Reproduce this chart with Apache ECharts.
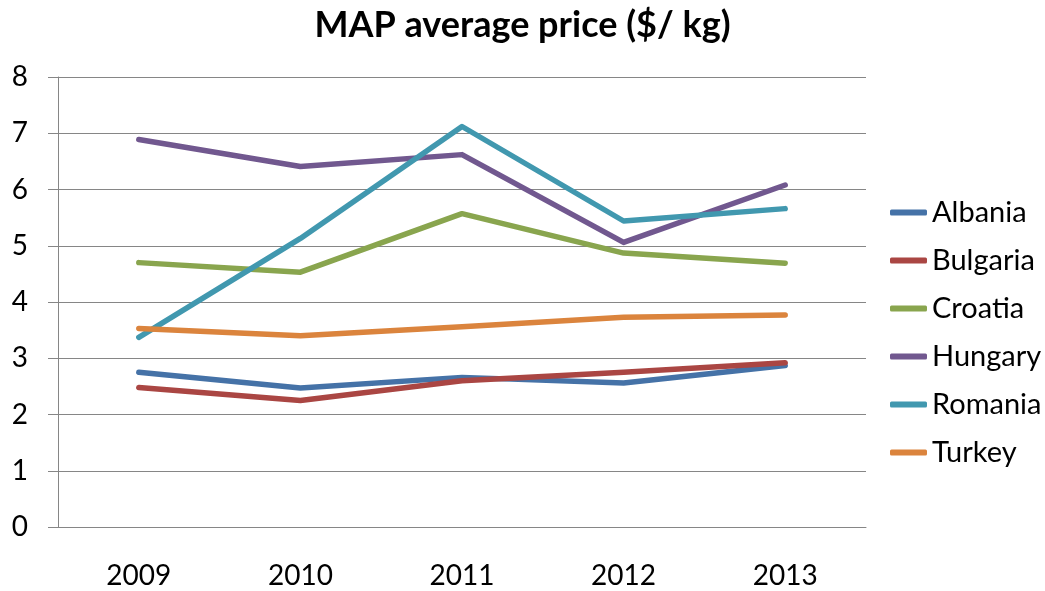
<!DOCTYPE html>
<html>
<head>
<meta charset="utf-8">
<script src="https://cdn.jsdelivr.net/npm/echarts@6/dist/echarts.min.js"></script>
<style>html,body{margin:0;padding:0;background:#fff}#c{width:1045px;height:591px}</style>
</head>
<body>
<div id="c"></div>
<script>
const years = ['2009', '2010', '2011', '2012', '2013'];
const albania  = [2.75, 2.47, 2.66, 2.56, 2.87];
const bulgaria = [2.48, 2.25, 2.60, 2.75, 2.92];
const croatia  = [4.70, 4.53, 5.57, 4.87, 4.69];
const hungary  = [6.89, 6.41, 6.62, 5.06, 6.08];
const romania  = [3.37, 5.13, 7.12, 5.44, 5.66];
const turkey   = [3.53, 3.40, 3.56, 3.73, 3.77];
const seriesNames = ['Albania', 'Bulgaria', 'Croatia', 'Hungary', 'Romania', 'Turkey'];
const seriesData = [albania, bulgaria, croatia, hungary, romania, turkey];
const colors = ['#4572A7', '#AA4643', '#89A54E', '#71588F', '#4198AF', '#DB843D'];

const FONT = 'Lato';
const chart = echarts.init(document.getElementById('c'), null, {renderer: 'canvas'});
chart.setOption({
  animation: false,
  color: colors,
  title: {
    text: 'MAP average price ($/ kg)',
    left: 'center',
    top: 2,
    textStyle: {fontFamily: FONT, fontSize: 36, fontWeight: 'bold', color: '#000'}
  },
  legend: {
    orient: 'vertical',
    left: 885,
    top: 193,
    itemWidth: 37,
    itemHeight: 6,
    itemGap: 19,
    icon: 'roundRect',
    textStyle: {fontFamily: FONT, fontSize: 29, color: '#000', lineHeight: 29},
    data: seriesNames
  },
  grid: {left: 58, right: 179, top: 77, bottom: 64},
  xAxis: {
    type: 'category',
    data: years,
    axisLine: {lineStyle: {color: '#868686', width: 1}},
    axisTick: {length: 10, lineStyle: {color: '#868686'}},
    axisLabel: {fontFamily: FONT, fontSize: 28, color: '#000', margin: 35}
  },
  yAxis: {
    type: 'value',
    min: 0, max: 8, interval: 1,
    axisLine: {show: true, lineStyle: {color: '#868686', width: 1}},
    axisTick: {show: true, length: 10, lineStyle: {color: '#868686'}},
    axisLabel: {fontFamily: FONT, fontSize: 28, color: '#000', margin: 30},
    splitLine: {lineStyle: {color: '#868686', width: 1}}
  },
  series: seriesNames.map((n, i) => ({
    name: n,
    type: 'line',
    data: seriesData[i],
    symbol: 'none',
    lineStyle: {width: 5.5, cap: 'round', join: 'round'}
  }))
});
</script>
</body>
</html>
